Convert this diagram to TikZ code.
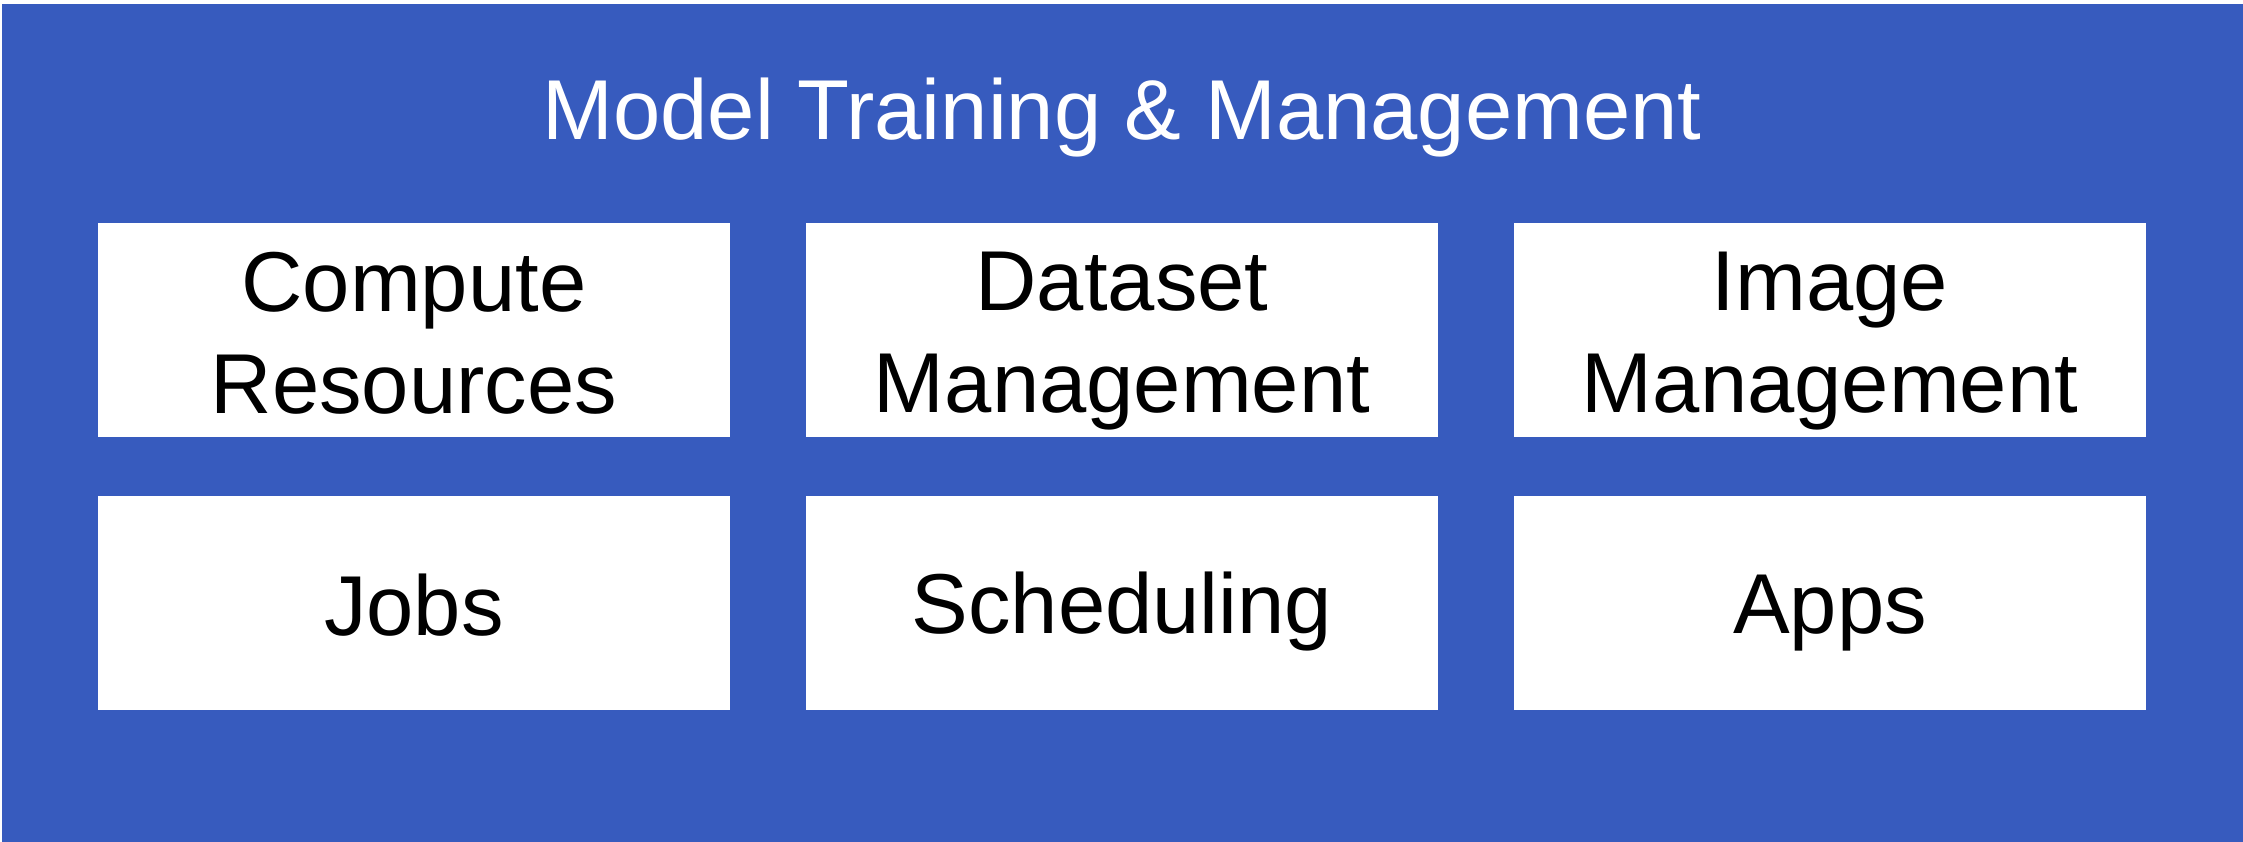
\documentclass[tikz,border=0pt]{standalone}
\usepackage{fontspec}
\setmainfont{Liberation Sans}
\definecolor{panelblue}{HTML}{375BBE}
\newcommand\cellstrut{\rule[-15pt]{0pt}{95pt}}
\begin{document}
\begin{tikzpicture}[x=1pt,y=-1pt,
  panel/.style={fill=panelblue, draw=none},
  cell/.style={fill=white, draw=none, minimum width=632pt, minimum height=214pt,
    inner sep=0pt, align=center, text=black,
    font=\fontsize{85}{102}\selectfont},
  titletext/.style={text=white, inner sep=0pt, anchor=base,
    font=\fontsize{85}{100}\selectfont}]
\useasboundingbox (0,0) rectangle (2243,842);
\fill[panel] (2,4) rectangle (2243,842);
\node[titletext] (title) at (1122,140) {Model Training \& Management};
\node[cell] (compute) at (414,330) {\cellstrut Compute\\\cellstrut Resources};
\node[cell] (dataset) at (1122,330) {\cellstrut Dataset\\\cellstrut Management};
\node[cell] (image)   at (1830,330) {\cellstrut Image\\\cellstrut Management};
\node[cell] (jobs)     at (414,602.5) {\cellstrut Jobs};
\node[cell] (sched)    at (1122,602.5) {\cellstrut Scheduling};
\node[cell] (apps)     at (1830,602.5) {\cellstrut Apps};
\end{tikzpicture}
\end{document}
